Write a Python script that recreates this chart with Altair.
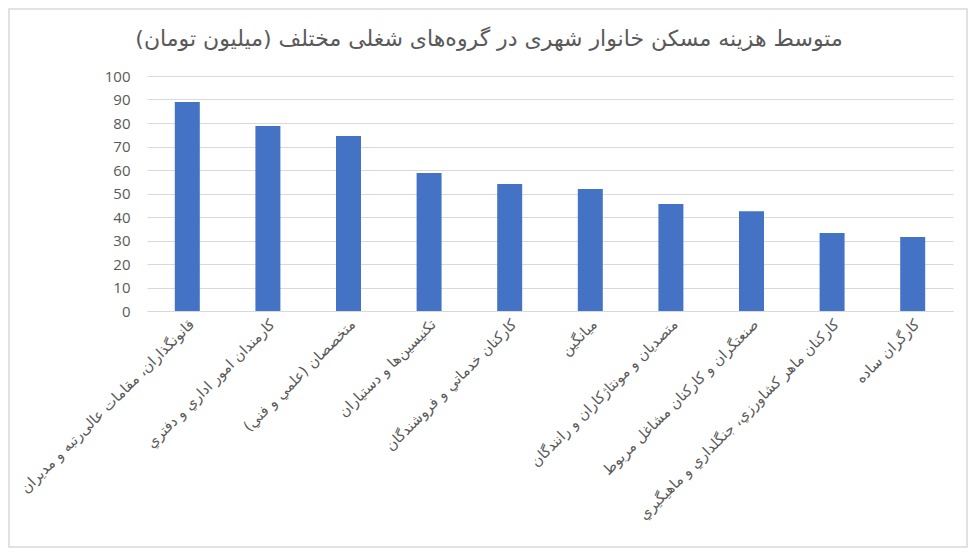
"""Average urban household housing cost by occupational group (bar chart)."""

import altair as alt
import pandas as pd

groups = [
    "قانونگذاران، مقامات عالی‌رتبه و مدیران",
    "کارمندان امور اداري و دفتري",
    "متخصصان (علمي و فني)",
    "تکنیسین‌ها و دستیاران",
    "کارکنان خدماتي و فروشندگان",
    "میانگین",
    "متصدیان و مونتاژکاران و رانندگان",
    "صنعتگران و کارکنان مشاغل مربوط",
    "کارکنان ماهر کشاورزي، جنگلداري و ماهیگیري",
    "کارگران ساده",
]
costs = [88.9, 78.7, 74.5, 58.7, 54.0, 51.9, 45.5, 42.5, 33.2, 31.5]
y_ticks = list(range(0, 101, 10))

title_text = "متوسط هزینه مسکن خانوار شهری در گروه‌های شغلی مختلف (میلیون تومان)"

df = pd.DataFrame({"group": groups, "cost": costs})

TEXT = "#595959"
GRID = "#d9d9d9"
NUM_FONT = "Open Sans"
FA_FONT = "DejaVu Sans"
W, H = 806, 235

bars = (
    alt.Chart(df)
    .mark_bar(color="#4472c4")
    .encode(
        x=alt.X(
            "group:N",
            sort=groups,
            scale=alt.Scale(paddingInner=0.69, paddingOuter=0.345),
            axis=alt.Axis(
                title=None,
                labelAngle=-45,
                labelAlign="right",
                labelBaseline="top",
                labelFontSize=14.5,
                labelColor=TEXT,
                labelFont=FA_FONT,
                labelPadding=6,
                labelLimit=400,
                ticks=False,
                domainColor=GRID,
                domainWidth=1.2,
                grid=False,
            ),
        ),
        y=alt.Y(
            "cost:Q",
            scale=alt.Scale(domain=[0, 100]),
            axis=alt.Axis(
                title=None,
                values=y_ticks,
                labelFontSize=15,
                labelColor=TEXT,
                labelFont=NUM_FONT,
                labelPadding=17,
                ticks=False,
                domain=False,
                gridColor=GRID,
                gridWidth=1.2,
            ),
        ),
    )
)

# chart title drawn as a text layer so it stays centred on the whole frame
title = (
    alt.Chart(pd.DataFrame({"t": [title_text]}))
    .mark_text(fontSize=22, color=TEXT, font=FA_FONT, align="center", baseline="middle")
    .encode(text="t:N", x=alt.value(W / 2 - 61), y=alt.value(-37))
)

# thin frame round the whole chart, as in the spreadsheet export
frame = (
    alt.Chart(pd.DataFrame({"k": [0]}))
    .mark_rect(fill=None, stroke=GRID, strokeWidth=1.5)
    .encode(
        x=alt.value(-138),
        x2=alt.value(W + 14),
        y=alt.value(-67),
        y2=alt.value(H + 236),
    )
)

chart = (
    (bars + title + frame)
    .properties(
        width=W,
        height=H,
        autosize=alt.AutoSizeParams(type="none"),
        padding={"left": 139, "top": 68, "right": 16, "bottom": 238},
    )
    .configure_view(strokeWidth=0)
)

chart.save("out.html", embed_options={"renderer": "svg", "actions": False})
